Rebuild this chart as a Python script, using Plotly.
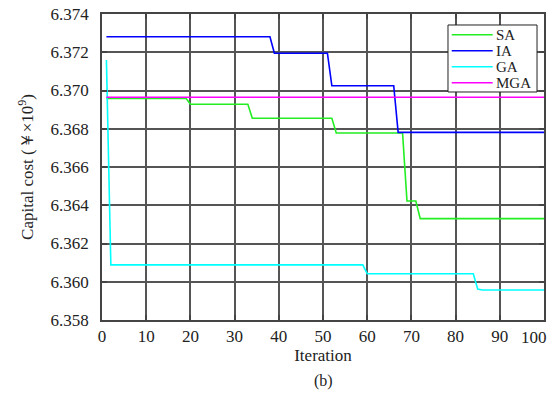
import plotly.graph_objects as go

# Data
sa_iter = [1, 19, 20, 33, 34, 52, 53, 68, 69, 71, 72, 100]
sa_cost = [6.36959, 6.36959, 6.36928, 6.36928, 6.36855, 6.36855, 6.36778, 6.36778,
           6.36422, 6.36422, 6.36330, 6.36330]

ia_iter = [1, 38, 39, 51, 52, 66, 67, 100]
ia_cost = [6.37281, 6.37281, 6.37195, 6.37195, 6.37025, 6.37025, 6.36781, 6.36781]

ga_iter = [1, 2, 59, 60, 84, 85, 86, 100]
ga_cost = [6.37159, 6.36088, 6.36088, 6.36042, 6.36042, 6.35962, 6.35957, 6.35957]

mga_iter = [1, 100]
mga_cost = [6.36965, 6.36965]

series_names = ["SA", "IA", "GA", "MGA"]
series_colors = ["#22ee22", "#0000ff", "#00ffff", "#ff00ff"]

x_ticks = [0, 10, 20, 30, 40, 50, 60, 70, 80, 90, 100]
y_ticks = [6.358, 6.360, 6.362, 6.364, 6.366, 6.368, 6.370, 6.372, 6.374]

font_family = "Liberation Serif"
text_color = "#222222"

fig = go.Figure()
for name, xs, ys, col in zip(series_names,
                             [sa_iter, ia_iter, ga_iter, mga_iter],
                             [sa_cost, ia_cost, ga_cost, mga_cost],
                             series_colors):
    fig.add_trace(go.Scatter(x=xs, y=ys, mode="lines", name=name,
                             line=dict(color=col, width=1.6)))

axis_common = dict(
    showgrid=True, gridcolor="#555555", gridwidth=1.5,
    showline=True, linecolor="#444444", linewidth=1.5, mirror="ticks",
    ticks="inside", ticklen=5, tickcolor="#444444", tickwidth=1.5,
    zeroline=False, automargin=False,
    tickfont=dict(family=font_family, size=17, color=text_color),
)

# last x tick label is drawn separately, nudged inward so it stays inside the frame
x_ticktext = [str(v) for v in x_ticks[:-1]] + [""]

fig.update_layout(
    width=555, height=394,
    margin=dict(l=102, r=11, t=14, b=74, autoexpand=False),
    paper_bgcolor="white", plot_bgcolor="white",
    font=dict(family=font_family, size=17, color=text_color),
    xaxis=dict(range=[0, 100], tickvals=x_ticks, ticktext=x_ticktext,
               ticklabelstandoff=0,
               title=dict(text="Iteration", standoff=0,
                          font=dict(family=font_family, size=17, color=text_color)),
               **axis_common),
    yaxis=dict(range=[6.358, 6.374], tickvals=y_ticks,
               ticktext=[f"{v:.3f}" for v in y_ticks],
               ticklabelstandoff=8,
               title=dict(text="Capital cost (￥×10<sup>9</sup>)", standoff=13,
                          font=dict(family=font_family, size=17, color=text_color)),
               **axis_common),
    showlegend=False,
)

fig.add_annotation(text=str(x_ticks[-1]), x=x_ticks[-1], xref="x", y=0, yref="paper",
                   xanchor="center", yanchor="top", xshift=-10, yshift=-6,
                   showarrow=False,
                   font=dict(family=font_family, size=17, color=text_color))

# Legend drawn as a boxed key in the upper right of the plot area
box_x0, box_x1 = 0.7828, 0.9842
box_y1, box_y0 = 0.9641, 0.7451
fig.add_shape(type="rect", xref="paper", yref="paper",
              x0=box_x0, x1=box_x1, y0=box_y0, y1=box_y1,
              line=dict(color="#222222", width=1), fillcolor="white", layer="above")
entry_step = 16 / 306
first_entry = 0.9324
for i, (name, col) in enumerate(zip(series_names, series_colors)):
    yy = first_entry - i * entry_step
    fig.add_shape(type="line", xref="paper", yref="paper",
                  x0=0.7912, x1=0.8839, y0=yy, y1=yy,
                  line=dict(color=col, width=1.6), layer="above")
    fig.add_annotation(text=name, x=0.8870, y=yy, xref="paper", yref="paper",
                       xanchor="left", yanchor="middle", showarrow=False,
                       font=dict(family=font_family, size=15, color=text_color))

fig.add_annotation(text="(b)", x=0.5, y=-0.165, xref="paper", yref="paper",
                   xanchor="center", yanchor="top", showarrow=False,
                   font=dict(family=font_family, size=16, color=text_color))

fig.write_html("out.html",
               config={"displayModeBar": False},
               post_script="document.body.style.margin='0';"
                           "document.body.style.overflow='hidden';")
